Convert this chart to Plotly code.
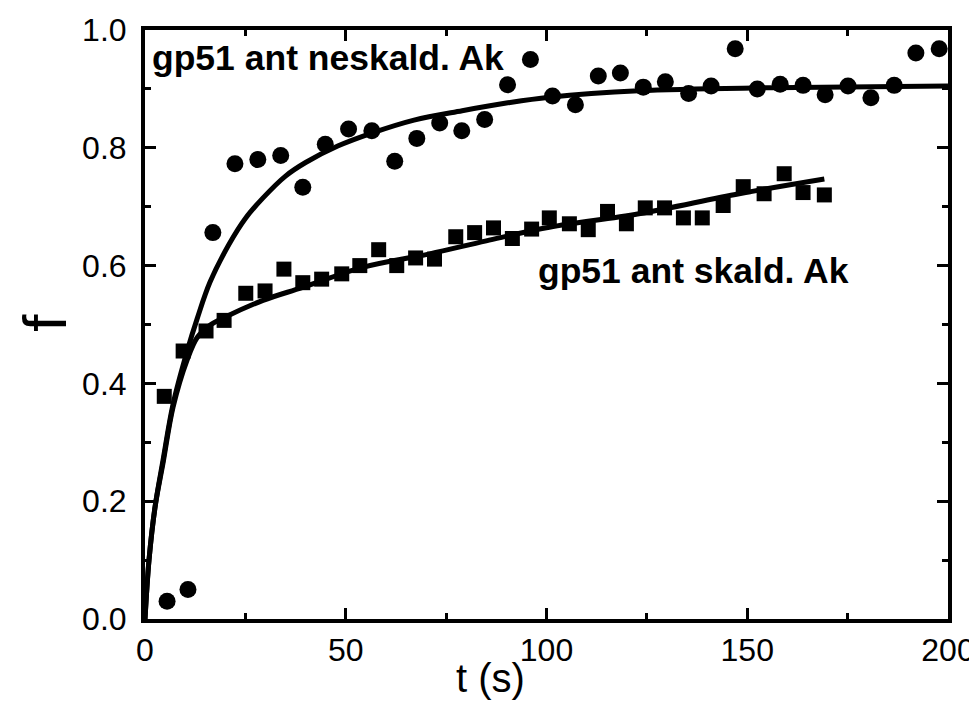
import plotly.graph_objects as go

# --- data ---
t_circ = [5.5, 10.7, 16.9, 22.4, 28.1, 33.8, 39.3, 44.9, 50.7, 56.5, 62.2, 67.7, 73.4,
          78.9, 84.6, 90.3, 96.0, 101.5, 107.2, 112.9, 118.4, 124.1, 129.6, 135.4,
          141.0, 147.0, 152.5, 158.2, 163.9, 169.4, 175.1, 180.8, 186.6, 192.0, 197.8]
f_circ = [0.030, 0.050, 0.656, 0.773, 0.780, 0.787, 0.733, 0.806, 0.832, 0.829, 0.777,
          0.816, 0.842, 0.829, 0.848, 0.907, 0.950, 0.888, 0.873, 0.922, 0.927, 0.903,
          0.912, 0.892, 0.905, 0.968, 0.900, 0.908, 0.906, 0.890, 0.905, 0.885, 0.906,
          0.961, 0.968]

t_sq = [4.8, 9.5, 15.2, 19.7, 25.1, 29.9, 34.6, 39.3, 44.0, 49.0, 53.5, 58.2, 62.7,
        67.4, 72.1, 77.4, 82.1, 86.8, 91.5, 96.3, 100.7, 105.7, 110.4, 115.2, 119.9,
        124.6, 129.4, 134.1, 138.8, 144.0, 149.0, 154.2, 159.2, 163.9, 169.2]
f_sq = [0.378, 0.455, 0.489, 0.507, 0.553, 0.557, 0.594, 0.571, 0.577, 0.586, 0.600,
        0.627, 0.600, 0.613, 0.611, 0.649, 0.656, 0.664, 0.646, 0.662, 0.681, 0.671,
        0.661, 0.692, 0.671, 0.698, 0.698, 0.681, 0.681, 0.702, 0.734, 0.722, 0.756,
        0.724, 0.720]

# fitted curves
t_fit_c = [0, 1, 2.5, 4.5, 7, 10.5, 13, 16.2, 21, 25, 29.4, 35, 40, 48, 56.5, 67, 79,
           90, 100.7, 123, 156, 200]
f_fit_c = [0.0, 0.10, 0.19, 0.27, 0.365, 0.455, 0.51, 0.572, 0.637, 0.68, 0.715, 0.752,
           0.775, 0.803, 0.825, 0.847, 0.863, 0.876, 0.886, 0.897, 0.902, 0.905]

t_fit_s = [0, 1, 2.5, 4.5, 7, 10.5, 13, 16, 20.4, 29.4, 39.3, 54.2, 70.9, 85, 100.7,
           123, 148, 169.2]
f_fit_s = [0.0, 0.10, 0.19, 0.265, 0.36, 0.44, 0.478, 0.498, 0.514, 0.541, 0.563,
           0.597, 0.620, 0.642, 0.665, 0.688, 0.722, 0.747]

x_ticks = [0, 50, 100, 150, 200]
y_ticks = [0.0, 0.2, 0.4, 0.6, 0.8, 1.0]
y_tick_text = ["0.0", "0.2", "0.4", "0.6", "0.8", "1.0"]
label_circ = "gp51 ant neskald. Ak"
label_sq = "gp51 ant skald. Ak"
x_title = "t (s)"
y_title = "f"

FONT = "Liberation Sans, Arial, sans-serif"

fig = go.Figure()
fig.add_trace(go.Scatter(x=t_fit_c, y=f_fit_c, mode="lines", line_shape="spline",
                         line=dict(color="black", width=5), hoverinfo="skip"))
fig.add_trace(go.Scatter(x=t_fit_s, y=f_fit_s, mode="lines", line_shape="spline",
                         line=dict(color="black", width=5), hoverinfo="skip"))
fig.add_trace(go.Scatter(x=t_circ, y=f_circ, mode="markers",
                         marker=dict(symbol="circle", size=17, color="black")))
fig.add_trace(go.Scatter(x=t_sq, y=f_sq, mode="markers",
                         marker=dict(symbol="square", size=15, color="black")))

fig.add_annotation(x=1.2, y=0.952, xref="x", yref="y", text=label_circ, showarrow=False,
                   xanchor="left", yanchor="middle",
                   font=dict(family=FONT, size=35.5, color="black", weight="bold"))
fig.add_annotation(x=97.5, y=0.59, xref="x", yref="y", text=label_sq, showarrow=False,
                   xanchor="left", yanchor="middle",
                   font=dict(family=FONT, size=35.5, color="black", weight="bold"))
fig.add_annotation(x=0.43, y=-0.1, xref="paper", yref="paper", text=x_title,
                   showarrow=False, xanchor="center", yanchor="middle",
                   font=dict(family=FONT, size=40, color="black"))
fig.add_annotation(x=-0.1245, y=0.503, xref="paper", yref="paper", text=y_title,
                   showarrow=False, xanchor="center", yanchor="middle", textangle=-90,
                   font=dict(family=FONT, size=62, color="black"))

axis_common = dict(showline=True, linecolor="black", linewidth=4, mirror="ticks",
                   ticks="inside", tickcolor="black", tickwidth=3, ticklen=11,
                   showgrid=False, zeroline=False, automargin=False)

fig.update_xaxes(range=[0, 200], tickvals=x_ticks,
                 tickfont=dict(family=FONT, size=32, color="black"),
                 minor=dict(ticks="inside", dtick=25, ticklen=6, tickwidth=3,
                            tickcolor="black", showgrid=False),
                 **axis_common)
fig.update_yaxes(range=[0, 1], tickvals=y_ticks, ticktext=y_tick_text,
                 tickfont=dict(family=FONT, size=32, color="black"),
                 ticklabelstandoff=8,
                 minor=dict(ticks="inside", dtick=0.1, ticklen=6, tickwidth=3,
                            tickcolor="black", showgrid=False),
                 **axis_common)

# the page body adds an 8px offset, so the figure is shrunk by that amount
fig.update_layout(width=969, height=703, showlegend=False,
                  plot_bgcolor="white", paper_bgcolor="white",
                  margin=dict(l=137, r=29, t=22, b=92))

fig.write_html("out.html")
